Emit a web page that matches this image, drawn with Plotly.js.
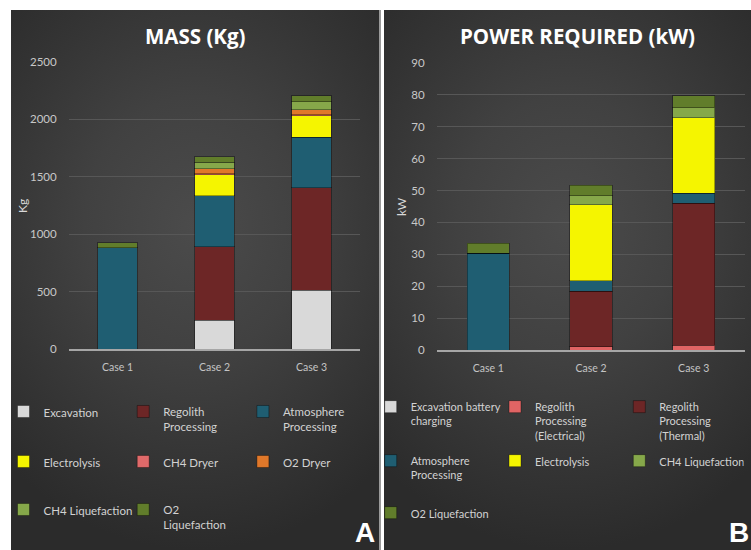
<!DOCTYPE html>
<html>
<head>
<meta charset="utf-8">
<script src="https://cdn.plot.ly/plotly-3.0.1.min.js"></script>
<style>
  html, body { margin:0; padding:0; background:#ffffff; }
  #wrap { position:relative; width:751px; height:550px; overflow:hidden; background:#ffffff; }
  .panel { position:absolute; top:10px; height:540px;
    background: radial-gradient(ellipse 75% 60% at 50% 40%, #4b4b4b 0%, #414141 40%, #343434 75%, #2b2b2b 100%); }
  #pa { left:11px; width:368px; }
  #pb { left:384px; width:367px; }
  #sep { position:absolute; left:379px; top:10px; width:2px; height:540px; background:#9a9a9a; }
  #chart { position:absolute; left:0; top:0; width:751px; height:550px; }
</style>
</head>
<body>
<div id="wrap">
  <div class="panel" id="pa"></div>
  <div id="sep"></div>
  <div class="panel" id="pb"></div>
  <div id="chart"></div>
</div>
<script>
// ---------- DATA ----------
var cases = ['Case 1', 'Case 2', 'Case 3'];

// Panel A: MASS (Kg)
var massExcavation   = [0, 250, 510];
var massRegolith     = [0, 640, 895];
var massAtmosphere   = [880, 443, 440];
var massElectrolysis = [0, 183, 185];
var massCH4Dryer     = [0, 12, 12];
var massO2Dryer      = [0, 40, 40];
var massCH4Liq       = [0, 58, 70];
var massO2Liq        = [45, 49, 52];

// Panel B: POWER REQUIRED (kW)
var powExcavationBattery = [0, 0, 0];
var powRegolithElec      = [0, 1.0, 1.5];
var powRegolithThermal   = [0, 17.5, 44.5];
var powAtmosphere        = [30.4, 3.2, 3.1];
var powElectrolysis      = [0, 23.8, 23.8];
var powCH4Liq            = [0, 2.8, 3.1];
var powO2Liq             = [3.1, 3.4, 3.8];

var massTickVals = [0, 500, 1000, 1500, 2000, 2500];
var powTickVals  = [0, 10, 20, 30, 40, 50, 60, 70, 80, 90];

// ---------- STYLE ----------
var C = {
  exc: '#d9d9d9', reg: '#6d2626', atm: '#1f5e72', ely: '#f5f500',
  ch4d: '#e06a6a', o2d: '#e0782a', ch4l: '#86a84a', o2l: '#617d2b', regE: '#e06464'
};
var FONT = 'Lato, "Open Sans", sans-serif';
var TFONT = '"Open Sans", Lato, sans-serif';
var edge = {color: 'rgba(0,0,0,0.35)', width: 1};

function bar(name, y, color, xa, ya, lg) {
  return {
    type: 'bar', name: name, x: cases, y: y, xaxis: xa, yaxis: ya, legend: lg,
    marker: {color: color, line: edge}, hoverinfo: 'name+y'
  };
}

var data = [
  bar('Excavation', massExcavation, C.exc, 'x', 'y', 'legend'),
  bar('Regolith<br>Processing', massRegolith, C.reg, 'x', 'y', 'legend'),
  bar('Atmosphere<br>Processing', massAtmosphere, C.atm, 'x', 'y', 'legend'),
  bar('Electrolysis', massElectrolysis, C.ely, 'x', 'y', 'legend2'),
  bar('CH4 Dryer', massCH4Dryer, C.ch4d, 'x', 'y', 'legend2'),
  bar('O2 Dryer', massO2Dryer, C.o2d, 'x', 'y', 'legend2'),
  bar('CH4 Liquefaction', massCH4Liq, C.ch4l, 'x', 'y', 'legend3'),
  bar('O2<br>Liquefaction', massO2Liq, C.o2l, 'x', 'y', 'legend3'),

  bar('Excavation battery<br>charging', powExcavationBattery, C.exc, 'x2', 'y2', 'legend4'),
  bar('Regolith<br>Processing<br>(Electrical)', powRegolithElec, C.regE, 'x2', 'y2', 'legend4'),
  bar('Regolith<br>Processing<br>(Thermal)', powRegolithThermal, C.reg, 'x2', 'y2', 'legend4'),
  bar('Atmosphere<br>Processing', powAtmosphere, C.atm, 'x2', 'y2', 'legend5'),
  bar('Electrolysis', powElectrolysis, C.ely, 'x2', 'y2', 'legend5'),
  bar('CH4 Liquefaction', powCH4Liq, C.ch4l, 'x2', 'y2', 'legend5'),
  bar('O2 Liquefaction', powO2Liq, C.o2l, 'x2', 'y2', 'legend6')
];

var W = 751, H = 550;
function px(x) { return x / W; }
function py(y) { return 1 - y / H; }

function xAx(d0, d1, anchor) {
  return {
    domain: [px(d0), px(d1)], anchor: anchor, type: 'category', fixedrange: true,
    showgrid: false, zeroline: false, showline: true, linecolor: '#a6a6a6', linewidth: 2,
    ticks: 'outside', ticklen: 7, tickcolor: 'rgba(0,0,0,0)',
    tickfont: {family: FONT, size: 10.5, color: '#c4c4c4'}
  };
}
function yAx(bottom, top, range, vals, anchor) {
  return {
    domain: [py(bottom), py(top)], anchor: anchor, range: range, fixedrange: true,
    tickvals: vals, showgrid: true, gridcolor: '#575757', gridwidth: 1, zeroline: false,
    showline: false, ticks: 'outside', ticklen: 9, tickcolor: 'rgba(0,0,0,0)',
    tickfont: {family: FONT, size: 11.5, color: '#c8c8c8'}
  };
}
function leg(x, y, ew, fs) {
  return {
    x: px(x), y: py(y), xanchor: 'left', yanchor: 'top', orientation: 'h',
    entrywidth: ew, entrywidthmode: 'pixels', valign: 'top', traceorder: 'normal',
    bgcolor: 'rgba(0,0,0,0)', borderwidth: 0,
    font: {family: FONT, size: fs, color: '#d2d2d2'}
  };
}

var layout = {
  width: W, height: H,
  margin: {l: 0, r: 0, t: 0, b: 0, pad: 0},
  paper_bgcolor: 'rgba(0,0,0,0)', plot_bgcolor: 'rgba(0,0,0,0)',
  barmode: 'stack', bargap: 0.59,
  showlegend: true,
  xaxis: xAx(69, 360, 'y'),
  yaxis: yAx(349, 62, [0, 2500], massTickVals, 'x'),
  xaxis2: xAx(437, 745, 'y2'),
  yaxis2: yAx(350, 63, [0, 90], powTickVals, 'x2'),
  legend:  leg(3.5, 397.5, 74.7, 11.5),
  legend2: leg(3.5, 447.5, 74.7, 11.5),
  legend3: leg(3.5, 495.5, 74.7, 11.5),
  legend4: leg(370.7, 393, 79.3, 11),
  legend5: leg(370.7, 447, 79.3, 11),
  legend6: leg(370.7, 499, 79.3, 11),
  annotations: [
    {text: '<b>MASS (Kg)</b>', x: px(195), y: py(36), xref: 'paper', yref: 'paper',
     xanchor: 'center', yanchor: 'middle', showarrow: false,
     font: {family: TFONT, size: 20.5, color: '#ffffff'}},
    {text: '<b>POWER REQUIRED (kW)</b>', x: px(577), y: py(36), xref: 'paper', yref: 'paper',
     xanchor: 'center', yanchor: 'middle', showarrow: false,
     font: {family: TFONT, size: 20.5, color: '#ffffff'}},
    {text: 'Kg', x: px(23), y: py(206), xref: 'paper', yref: 'paper', textangle: -90,
     xanchor: 'center', yanchor: 'middle', showarrow: false,
     font: {family: FONT, size: 12, color: '#d8d8d8'}},
    {text: 'kW', x: px(401), y: py(207), xref: 'paper', yref: 'paper', textangle: -90,
     xanchor: 'center', yanchor: 'middle', showarrow: false,
     font: {family: FONT, size: 12, color: '#d8d8d8'}},
    {text: '<b>A</b>', x: px(365), y: py(532), xref: 'paper', yref: 'paper',
     xanchor: 'center', yanchor: 'middle', showarrow: false,
     font: {family: '"Liberation Sans", Arial, sans-serif', size: 28, color: '#ffffff'}},
    {text: '<b>B</b>', x: 1, y: py(532), xref: 'paper', yref: 'paper',
     xanchor: 'right', yanchor: 'middle', showarrow: false,
     font: {family: '"Liberation Sans", Arial, sans-serif', size: 28, color: '#ffffff'}}
  ]
};

Plotly.newPlot('chart', data, layout, {displayModeBar: false, staticPlot: true});
</script>
</body>
</html>
